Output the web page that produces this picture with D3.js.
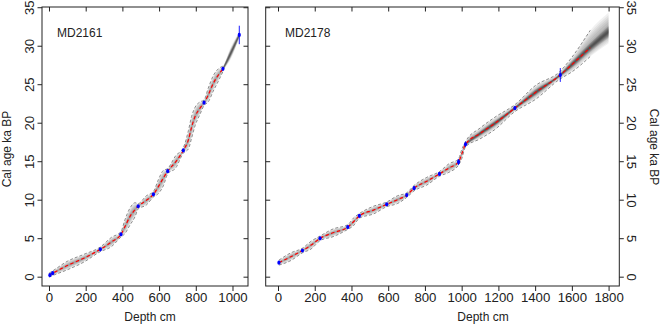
<!DOCTYPE html>
<html><head><meta charset="utf-8">
<script src="https://cdn.jsdelivr.net/npm/d3@7"></script>
<style>
html,body{margin:0;padding:0;background:#fff;}
svg text{font-family:"Liberation Sans",Arial,Helvetica,sans-serif;fill:#222;}
</style></head>
<body><svg id="c" width="660" height="325"></svg>
<script>
// ---------- DATA ----------
// MD2161 age-depth model (depth cm, age ka BP)
const md2161Depth = [0, 20, 100, 190, 280, 340, 392, 414, 441, 469, 486, 530, 569, 596, 623, 647, 690, 732, 760, 777, 796, 823, 845, 868, 895, 923, 948, 990, 1037];
const md2161Mean  = [0.2, 0.45, 1.45, 2.4, 3.56, 4.5, 5.5, 6.5, 7.8, 8.7, 9.15, 9.9, 10.7, 11.7, 12.8, 13.7, 14.9, 16.4, 17.8, 19.4, 20.8, 21.9, 22.6, 23.6, 25.1, 26.2, 27.0, 29.0, 31.4];
const md2161Low   = [-0.05, 0.15, 0.9, 1.9, 3.26, 3.9, 5.15, 5.6, 6.7, 7.8, 8.8, 9.3, 10.35, 10.8, 11.8, 13.35, 14.1, 16.05, 16.6, 18.0, 19.6, 21.1, 22.25, 22.7, 24.1, 25.4, 26.65, 28.2, 31.0];
const md2161High  = [0.45, 0.75, 2.0, 2.9, 3.86, 5.1, 5.85, 7.4, 8.9, 9.6, 9.5, 10.5, 11.05, 12.6, 13.8, 14.05, 15.7, 16.75, 19.0, 20.8, 22.0, 22.7, 22.95, 24.5, 26.1, 27.0, 27.35, 29.8, 31.8];
const md2161CoreDepth = [948, 990, 1037];
const md2161CoreLow   = [26.75, 28.5, 31.05];
const md2161CoreHigh  = [27.25, 29.5, 31.75];
const md2161DateDepth = [5, 20, 280, 392, 486, 569, 647, 732, 845, 948, 1037];
const md2161DateAge   = [0.2, 0.45, 3.56, 5.5, 9.15, 10.7, 13.7, 16.4, 22.6, 27.0, 31.4];
const md2161DateErr   = [0.1, 0.1, 0.1, 0.1, 0.15, 0.1, 0.15, 0.15, 0.15, 0.2, 1.2];

// MD2178 age-depth model
const md2178Depth = [5, 70, 133, 180, 229, 300, 380, 410, 443, 520, 592, 650, 701, 741, 810, 879, 930, 983, 1000, 1021, 1100, 1180, 1290, 1400, 1537, 1600, 1700, 1800];
const md2178Mean  = [1.82, 2.6, 3.4, 4.1, 4.98, 5.7, 6.45, 7.1, 7.9, 8.65, 9.4, 10.0, 10.6, 11.5, 12.4, 13.35, 14.1, 14.9, 15.9, 17.2, 18.6, 19.9, 21.9, 23.9, 26.2, 27.55, 29.75, 31.9];
const md2178Low   = [1.5, 2.1, 3.1, 3.6, 4.68, 5.2, 6.15, 6.6, 7.6, 8.15, 9.1, 9.5, 10.3, 11.15, 11.9, 13.05, 13.55, 14.5, 15.3, 16.85, 17.9, 19.1, 21.45, 23.0, 25.7, 26.6, 28.6, 30.3];
const md2178High  = [2.15, 3.1, 3.7, 4.6, 5.28, 6.2, 6.75, 7.6, 8.2, 9.15, 9.7, 10.5, 10.9, 11.85, 12.9, 13.65, 14.65, 15.3, 16.5, 17.55, 19.3, 20.7, 22.35, 24.8, 26.7, 28.5, 32.0, 34.3];
const md2178CoreDepth = [1021, 1100, 1180, 1290, 1400, 1537, 1600, 1700, 1800];
const md2178CoreLow   = [17.0, 18.3, 19.55, 21.7, 23.5, 26.0, 27.1, 29.2, 31.0];
const md2178CoreHigh  = [17.4, 18.9, 20.25, 22.1, 24.3, 26.4, 28.0, 30.4, 32.6];
const md2178DateDepth = [5, 133, 229, 380, 443, 592, 701, 741, 879, 983, 1021, 1290, 1537];
const md2178DateAge   = [1.82, 3.4, 4.98, 6.45, 7.9, 9.4, 10.6, 11.5, 13.35, 14.9, 17.2, 21.9, 26.2];
const md2178DateErr   = [0.1, 0.1, 0.1, 0.1, 0.15, 0.1, 0.15, 0.25, 0.1, 0.4, 0.35, 0.2, 0.9];

const leftTicksX  = [0, 200, 400, 600, 800, 1000];
const rightTicksX = [0, 200, 400, 600, 800, 1000, 1200, 1400, 1600, 1800];
const ticksY = [0, 5, 10, 15, 20, 25, 30, 35];
const coreNames = ["MD2161", "MD2178"];
const xTitle = "Depth cm";
const yTitle = "Cal age ka BP";

// ---------- LAYOUT ----------
const svg = d3.select("#c");
const plotTop = 7, plotBottom = 286;
const y = d3.scaleLinear().domain([-1.21, 35.03]).range([plotBottom, plotTop]);
const tickStretch = 1.1;

const panels = [
  {name: coreNames[0], x: d3.scaleLinear().domain([-38.1, 1084.5]).range([42, 248]), ticks: leftTicksX,
   depth: md2161Depth, mean: md2161Mean, low: md2161Low, high: md2161High,
   cDepth: md2161CoreDepth, cLow: md2161CoreLow, cHigh: md2161CoreHigh,
   dDepth: md2161DateDepth, dAge: md2161DateAge, dErr: md2161DateErr,
   lineMax: 950, yAxis: "left", titleX: 150, labelX: 57},
  {name: coreNames[1], x: d3.scaleLinear().domain([-67, 1858.3]).range([265.7, 619.3]), ticks: rightTicksX,
   depth: md2178Depth, mean: md2178Mean, low: md2178Low, high: md2178High,
   cDepth: md2178CoreDepth, cLow: md2178CoreLow, cHigh: md2178CoreHigh,
   dDepth: md2178DateDepth, dAge: md2178DateAge, dErr: md2178DateErr,
   lineMax: 1700, yAxis: "right", titleX: 483, labelX: 285}
];

const defs = svg.append("defs");

panels.forEach((p, pi) => {
  const x = p.x;
  const [x0, x1] = x.range();
  defs.append("clipPath").attr("id", "clip" + pi)
    .append("rect").attr("x", x0).attr("y", plotTop).attr("width", x1 - x0).attr("height", plotBottom - plotTop);
  const g = svg.append("g").attr("clip-path", `url(#clip${pi})`);

  // shading: nested bands
  const K = 8;
  const idx = p.depth.map((d, i) => i);
  for (let k = 1; k <= K; k++) {
    const f = k / K;
    const area = d3.area().curve(d3.curveMonotoneX)
      .x(i => x(p.depth[i]))
      .y0(i => y(p.mean[i] - f * (p.mean[i] - p.low[i])))
      .y1(i => y(p.mean[i] + f * (p.high[i] - p.mean[i])));
    g.append("path").attr("d", area(idx)).attr("fill", "#000").attr("fill-opacity", 0.055);
  }
  const cIdx = p.cDepth.map((d, i) => i);
  const cMid = i => (p.cLow[i] + p.cHigh[i]) / 2;
  const KC = 6;
  for (let k = 1; k <= KC; k++) {
    const f = k / KC;
    const area = d3.area().curve(d3.curveMonotoneX)
      .x(i => x(p.cDepth[i]))
      .y0(i => y(cMid(i) - f * (cMid(i) - p.cLow[i])))
      .y1(i => y(cMid(i) + f * (p.cHigh[i] - cMid(i))));
    g.append("path").attr("d", area(cIdx)).attr("fill", "#000").attr("fill-opacity", 0.1);
  }

  const lIdx = idx.filter(i => p.depth[i] <= p.lineMax);
  const line = acc => d3.line().curve(d3.curveMonotoneX).x(i => x(p.depth[i])).y(i => y(acc[i]));
  // bounds (dashed grey)
  [p.low, p.high].forEach(arr => {
    g.append("path").attr("d", line(arr)(lIdx)).attr("fill", "none")
      .attr("stroke", "#707070").attr("stroke-width", 0.8).attr("stroke-dasharray", "3,2");
  });
  // mean (red dashed)
  g.append("path").attr("d", line(p.mean)(lIdx)).attr("fill", "none")
    .attr("stroke", "#ff0000").attr("stroke-width", 1.2).attr("stroke-dasharray", "3.5,2.5");

  // dates (blue)
  p.dDepth.forEach((d, i) => {
    g.append("line").attr("x1", x(d)).attr("x2", x(d))
      .attr("y1", y(p.dAge[i] - p.dErr[i])).attr("y2", y(p.dAge[i] + p.dErr[i]))
      .attr("stroke", "#0000ff").attr("stroke-width", 0.9);
    g.append("ellipse").attr("cx", x(d)).attr("cy", y(p.dAge[i])).attr("rx", 1.6).attr("ry", 2.1)
      .attr("fill", "#0000ff");
  });

  // axes
  const ax = svg.append("g");
  const bx = ax.append("g").attr("transform", `translate(0,${plotBottom})`)
    .call(d3.axisBottom(x).tickValues(p.ticks).tickSize(5).tickFormat(d3.format("d")));
  bx.selectAll("text").attr("y", null).attr("dy", null)
    .attr("transform", `translate(0,15.7) scale(${tickStretch},1)`).style("font-size", "12px");
  ax.append("g").attr("transform", `translate(0,${plotTop})`)
    .call(d3.axisTop(x).tickValues(p.ticks).tickSize(-4.5).tickFormat(""));
  if (p.yAxis === "left") {
    const ly = ax.append("g").attr("transform", `translate(${x0},0)`)
      .call(d3.axisLeft(y).tickValues(ticksY).tickSize(4.5));
    ly.selectAll("text").attr("x", null).attr("dy", null).attr("text-anchor", "middle")
      .attr("transform", `translate(-8,0) rotate(-90) scale(${tickStretch},1)`).style("font-size", "12px");
    ax.append("g").attr("transform", `translate(${x1},0)`)
      .call(d3.axisRight(y).tickValues(ticksY).tickSize(-4.5).tickFormat(""));
    svg.append("text").attr("transform", `translate(10.5,149) rotate(-90)`)
      .attr("text-anchor", "middle").style("font-size", "12px").text(yTitle);
  } else {
    ax.append("g").attr("transform", `translate(${x0},0)`)
      .call(d3.axisLeft(y).tickValues(ticksY).tickSize(-4.5).tickFormat(""));
    const ry = ax.append("g").attr("transform", `translate(${x1},0)`)
      .call(d3.axisRight(y).tickValues(ticksY).tickSize(4.5));
    ry.selectAll("text").attr("x", null).attr("dy", null).attr("text-anchor", "middle")
      .attr("transform", `translate(7.3,0) rotate(90) scale(${tickStretch},1)`).style("font-size", "12px");
    svg.append("text").attr("transform", `translate(649.5,147) rotate(90)`)
      .attr("text-anchor", "middle").style("font-size", "12px").text(yTitle);
  }
  ax.selectAll(".domain").remove();
  ax.selectAll(".tick line").attr("stroke", "#222");
  ax.selectAll("text").attr("fill", "#222").style("font-family", '"Liberation Sans",Arial,sans-serif');

  // frame
  svg.append("rect").attr("x", x0).attr("y", plotTop).attr("width", x1 - x0).attr("height", plotBottom - plotTop)
    .attr("fill", "none").attr("stroke", "#222").attr("stroke-width", 1);

  svg.append("text").attr("x", p.titleX).attr("y", 321).attr("text-anchor", "middle")
    .style("font-size", "12px").text(xTitle);
  svg.append("text").attr("x", p.labelX).attr("y", 37).style("font-size", "12px").text(p.name);
});
</script></body></html>
